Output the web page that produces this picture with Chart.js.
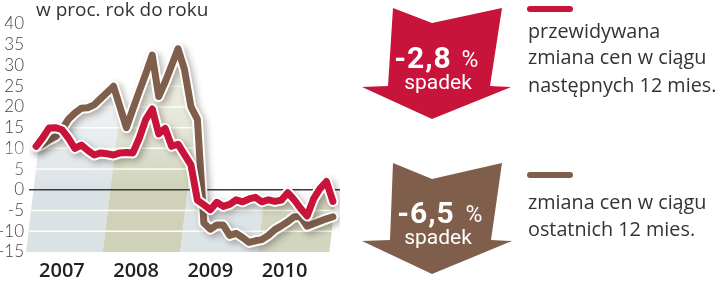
<!DOCTYPE html>
<html>
<head>
<meta charset="utf-8">
<script src="https://cdn.jsdelivr.net/npm/chart.js@4.4.1/dist/chart.umd.min.js"></script>
<style>
  body { margin: 0; width: 720px; height: 282px; background: #fff; position: relative; overflow: hidden; }
  #wrap { position: absolute; left: 0; top: 0; width: 350px; height: 282px; }
  #side { position: absolute; left: 0; top: 0; }
  .title { position: absolute; left: 36px; top: -4px; font: 19px "Open Sans", sans-serif; color: #333; white-space: nowrap; }
</style>
</head>
<body>
<div id="wrap"><canvas id="myChart" width="350" height="282"></canvas></div>
<div class="title">w proc. rok do roku</div>

<svg id="side" width="720" height="282">
  <polygon points="393,8 432,23 502,8 490,86 511,87 432,119 362,87 388,86" fill="#c8133b"/>
  <polygon points="393,163 432,179 502,163 491,240 512,241 432,274 362,241 390,240" fill="#7f5f4b"/>
  <g fill="#fff" font-family="Roboto, sans-serif">
    <text x="423" y="68" text-anchor="middle" font-size="30" font-weight="bold" letter-spacing="1">-2,8</text>
    <text x="470" y="67" text-anchor="middle" font-size="23">%</text>
    <text x="438" y="89" text-anchor="middle" font-size="21">spadek</text>
    <text x="426" y="223" text-anchor="middle" font-size="30" font-weight="bold" letter-spacing="1">-6,5</text>
    <text x="474" y="222" text-anchor="middle" font-size="23">%</text>
    <text x="438" y="244" text-anchor="middle" font-size="21">spadek</text>
  </g>
  <rect x="527" y="6" width="46" height="6" rx="3" fill="#c8133b"/>
  <rect x="527" y="172" width="46" height="6" rx="3" fill="#7f5f4b"/>
  <g fill="#333" font-family="'Open Sans', sans-serif" font-size="19.8">
    <text x="528" y="38">przewidywana</text>
    <text x="528" y="64">zmiana cen w ciągu</text>
    <text x="528" y="92">następnych 12 mies.</text>
    <text x="528" y="209">zmiana cen w ciągu</text>
    <text x="528" y="236">ostatnich 12 mies.</text>
  </g>
</svg>

<script>
// miesiace od stycznia 2007 (indeks 0) do listopada 2010 (indeks 46)
const years = ['2007', '2008', '2009', '2010'];

// przewidywana zmiana cen w ciagu nastepnych 12 mies. (czerwona)
const forecast = [10.5, 12.5, 14.9, 15, 14.5, 12.5, 10, 10.8, 9.5, 8.4, 8.9, 8.7,
  8.4, 8.9, 9, 8.9, 12.5, 17, 19.5, 13.5, 14.8, 10.5, 11, 8.5,
  6, -2.5, -3.6, -4.8, -3, -4, -3.5, -2.4, -2.9, -2.2, -1.8, -2.9,
  -2.4, -2.8, -2.5, -0.7, -2.4, -4.5, -6.3, -2.2, 0.3, 2, -2.8];

// zmiana cen w ciagu ostatnich 12 mies. (brazowa)
const past = [10.3, 11, 12, 12.8, 14.5, 17, 18.5, 19.7, 19.8, 20.5, 22, 23.5,
  25, 20, 15, 19.5, 23.8, 28, 32.5, 22.5, 26, 30, 34, 29,
  20, 17, -8, -9.5, -8.5, -8.5, -11, -10.5, -11.5, -12.7, -12.3, -12,
  -11, -9.6, -8.7, -7.7, -6.5, -6.5, -8.8, -8.2, -7.6, -7, -6.5];

const yTicks = [-15, -10, -5, 0, 5, 10, 15, 20, 25, 30, 35, 40];

var red = '#c8133b';
var brown = '#7f5f4b';
var bandColors = ['#dbe2e6', '#cfd2b8', '#dde4e8', '#d2d5bf'];

function pts(arr) {
  return arr.map(function (v, i) { return { x: i, y: v }; });
}

// tlo: pasy lat pod liniami, biale linie siatki, linia zera
const background = {
  id: 'background',
  beforeDatasetsDraw(chart) {
    const ctx = chart.ctx, area = chart.chartArea;
    const x = chart.scales.x, y = chart.scales.y;
    const y0 = y.getPixelForValue(0), yb = y.getPixelForValue(-15);
    const sk = -0.12;

    ctx.save();
    ctx.beginPath();
    ctx.moveTo(area.left - 20, yb);
    ctx.lineTo(area.left - 20, y.getPixelForValue(Math.max(forecast[0], past[0])));
    for (let i = 0; i < past.length; i++) {
      ctx.lineTo(x.getPixelForValue(i), y.getPixelForValue(Math.max(forecast[i], past[i])) - 2);
    }
    ctx.lineTo(area.right + 20, y.getPixelForValue(Math.max(forecast[past.length - 1], past[past.length - 1])));
    ctx.lineTo(area.right + 20, yb);
    ctx.closePath();
    ctx.clip();

    years.forEach(function (yr, k) {
      const xa = x.getPixelForValue(k === 0 ? -0.4 : k * 12 - 0.5);
      const xb = x.getPixelForValue(k === years.length - 1 ? past.length - 0.4 : k * 12 + 11.5);
      ctx.beginPath();
      ctx.moveTo(xa + sk * (area.top - y0), area.top);
      ctx.lineTo(xb + sk * (area.top - y0), area.top);
      ctx.lineTo(xb + sk * (yb - y0), yb);
      ctx.lineTo(xa + sk * (yb - y0), yb);
      ctx.closePath();
      ctx.fillStyle = bandColors[k];
      ctx.fill();
    });

    const g = ctx.createLinearGradient(0, area.top, 0, y0);
    g.addColorStop(0, 'rgba(255,255,255,0.75)');
    g.addColorStop(0.55, 'rgba(255,255,255,0.5)');
    g.addColorStop(0.85, 'rgba(255,255,255,0.2)');
    g.addColorStop(1, 'rgba(255,255,255,0)');
    ctx.fillStyle = g;
    ctx.fillRect(area.left - 20, area.top, area.width + 40, y0 - area.top);

    ctx.strokeStyle = 'rgba(255,255,245,0.95)';
    ctx.lineWidth = 1.5;
    yTicks.forEach(function (v) {
      if (v === 0 || v === -15) return;
      const py = y.getPixelForValue(v);
      ctx.beginPath();
      ctx.moveTo(area.left, py);
      ctx.lineTo(area.right, py);
      ctx.stroke();
    });
    ctx.restore();

    ctx.save();
    ctx.strokeStyle = '#3a3a3a';
    ctx.lineWidth = 1.5;
    ctx.beginPath();
    ctx.moveTo(area.left, y0);
    ctx.lineTo(area.right, y0);
    ctx.stroke();
    ctx.restore();
  }
};

// cien pod bialym obrysem linii
const shadow = {
  id: 'shadow',
  beforeDatasetDraw(chart, args) {
    if (chart.data.datasets[args.index].outline) {
      const ctx = chart.ctx;
      ctx.save();
      ctx.shadowColor = 'rgba(60,50,40,0.35)';
      ctx.shadowBlur = 6;
      ctx.shadowOffsetX = 3;
      ctx.shadowOffsetY = 3;
    }
  },
  afterDatasetDraw(chart, args) {
    if (chart.data.datasets[args.index].outline) chart.ctx.restore();
  }
};

function lineSet(arr, color, width, order, outline) {
  return {
    data: pts(arr),
    borderColor: color,
    borderWidth: width,
    pointRadius: 0,
    tension: 0,
    fill: false,
    borderJoinStyle: 'round',
    borderCapStyle: 'round',
    order: order,
    outline: outline
  };
}

const data = {
  datasets: [
    lineSet(past, '#ffffff', 11, 4, true),
    lineSet(past, brown, 7, 3, false),
    lineSet(forecast, '#ffffff', 11, 2, true),
    lineSet(forecast, red, 7, 1, false)
  ]
};

const config = {
  type: 'line',
  data: data,
  options: {
    responsive: false,
    animation: false,
    devicePixelRatio: 1,
    layout: { padding: { top: 24, right: 10, left: 0, bottom: 0 } },
    plugins: {
      legend: { display: false },
      tooltip: { enabled: false },
      title: { display: false }
    },
    scales: {
      x: {
        type: 'linear',
        min: -1.1,
        max: 47.1,
        grid: { display: false, drawTicks: false },
        border: { display: false },
        afterBuildTicks: function (scale) {
          scale.ticks = years.map(function (yr, k) { return { value: 12 * k + 4 - 0.5 * k }; });
        },
        afterFit: function (scale) { scale.height = 30; },
        ticks: {
          padding: 7,
          maxRotation: 0,
          autoSkip: false,
          color: '#222',
          font: { family: 'Open Sans', size: 20, weight: '600' },
          callback: function (v, i) { return years[i]; }
        }
      },
      y: {
        min: -15,
        max: 40,
        grid: { display: false, drawTicks: false },
        border: { display: false },
        afterBuildTicks: function (scale) {
          scale.ticks = yTicks.map(function (v) { return { value: v }; });
        },
        afterFit: function (scale) { scale.width = 29; },
        ticks: {
          padding: 5,
          autoSkip: false,
          color: '#444',
          font: { family: 'Lato', size: 17, weight: '300' }
        }
      }
    }
  },
  plugins: [background, shadow]
};

var myChart = new Chart(document.getElementById('myChart'), config);
</script>
</body>
</html>
